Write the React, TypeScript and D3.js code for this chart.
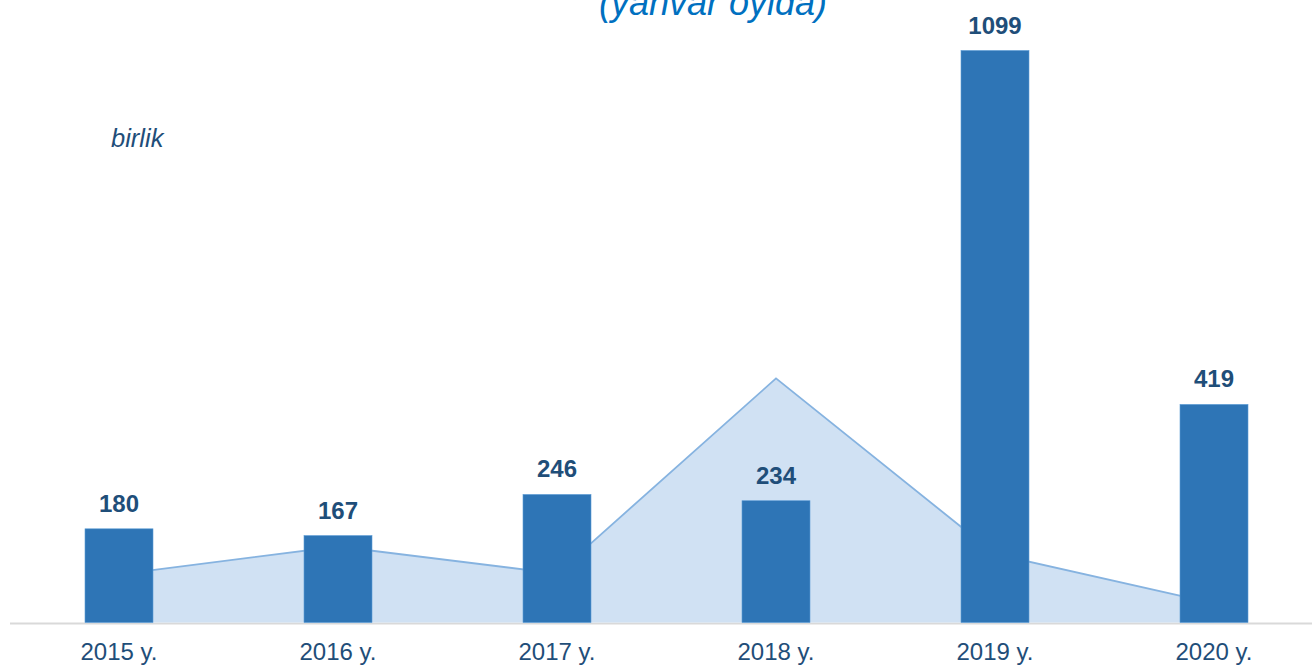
import React from "react";
import * as d3 from "d3";

const categories = ["2015 y.", "2016 y.", "2017 y.", "2018 y.", "2019 y.", "2020 y."];
const barValues = [180, 167, 246, 234, 1099, 419];
const areaValues = [92.5, 146, 94, 469, 131.5, 36.7];
const titleText = "(yanvar oyida)";
const unitText = "birlik";

const W = 1312;
const H = 665;

export default function App() {
  const x = d3.scaleBand<string>().domain(categories).range([9.5, 1323.5]).padding(0);
  const y = d3.scaleLinear().domain([0, 1099]).range([622.5, 50.5]);
  const barW = 68;
  const cx = (c: string) => (x(c) as number) + x.bandwidth() / 2;

  const area = d3
    .area<number>()
    .x((_, i) => cx(categories[i]))
    .y0(y(0))
    .y1((d) => y(d));
  const line = d3
    .line<number>()
    .x((_, i) => cx(categories[i]))
    .y((d) => y(d));

  return (
    <svg
      width={W}
      height={H}
      style={{ position: "absolute", left: 0, top: 0, background: "#fff", display: "block" }}
      fontFamily="'Liberation Sans', Arial, sans-serif"
    >
      <text x={713} y={15} textAnchor="middle" fontSize={36} fontStyle="italic" fill="#0070c0">
        {titleText}
      </text>
      <text x={111} y={147} fontSize={25.5} fontStyle="italic" fill="#1f4e79">
        {unitText}
      </text>
      <line x1={10} x2={W} y1={623.5} y2={623.5} stroke="#d9d9d9" strokeWidth={2} />
      <path d={area(areaValues) || ""} fill="#d0e1f3" />
      <path d={line(areaValues) || ""} fill="none" stroke="#86b3e0" strokeWidth={1.8} />
      {categories.map((c, i) => (
        <g key={c}>
          <rect
            x={cx(c) - barW / 2}
            y={y(barValues[i])}
            width={barW}
            height={y(0) - y(barValues[i])}
            fill="#2e75b6"
            stroke="#5b9bd5"
            strokeWidth={0.6}
          />
          <text
            x={cx(c)}
            y={y(barValues[i]) - 17}
            textAnchor="middle"
            fontSize={24}
            fontWeight="bold"
            fill="#1f4e79"
          >
            {barValues[i]}
          </text>
          <text x={cx(c)} y={660} textAnchor="middle" fontSize={24} fill="#1f4e79">
            {c}
          </text>
        </g>
      ))}
    </svg>
  );
}
